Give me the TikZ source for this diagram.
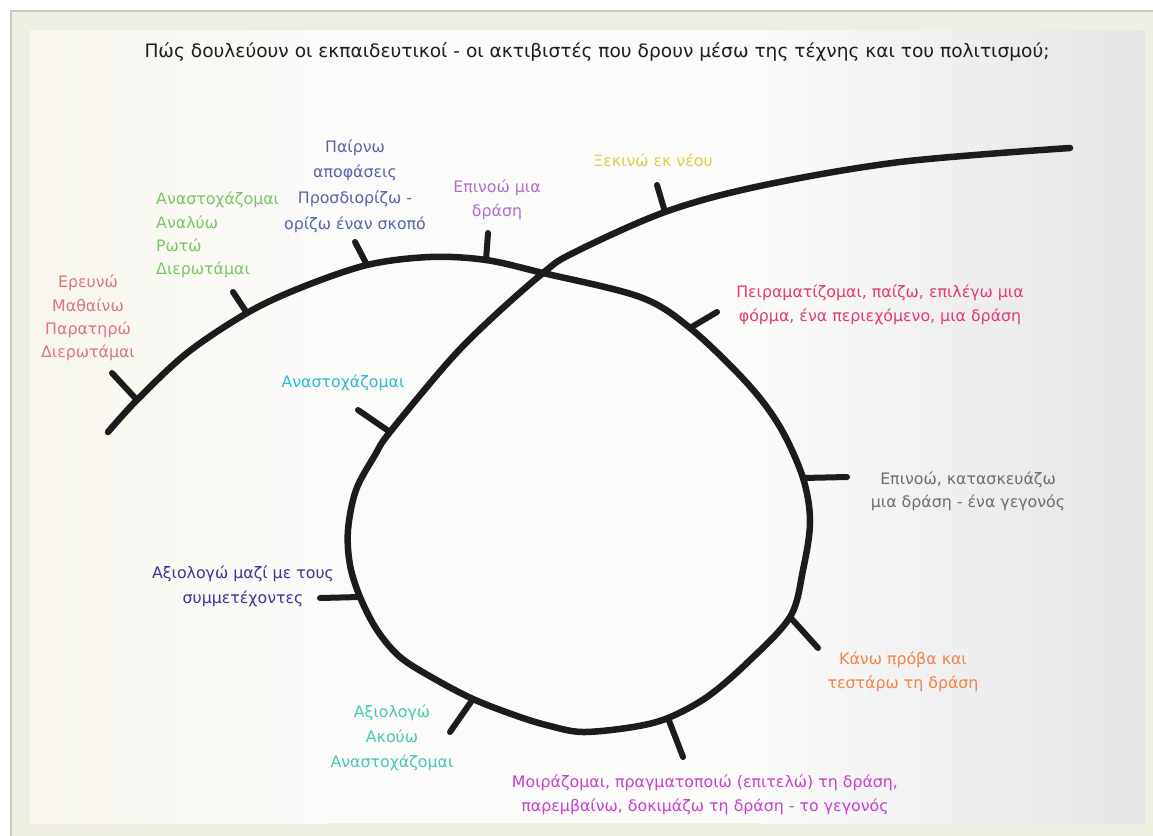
\documentclass[tikz,border=0pt]{standalone}
\usepackage{fontspec}
\usepackage{graphicx}
\setmainfont{DejaVu Sans}
\newfontfamily\titlefont{DejaVu Sans}
\newfontfamily\labelfont{DejaVu Sans}
\definecolor{ink}{RGB}{28,28,30}
\definecolor{ctitle}{RGB}{30,30,30}
\definecolor{cred}{RGB}{218,118,128}
\definecolor{cgreen}{RGB}{118,200,98}
\definecolor{cblue}{RGB}{88,100,172}
\definecolor{cpurple}{RGB}{178,110,205}
\definecolor{cyellow}{RGB}{226,202,70}
\definecolor{cpink}{RGB}{226,62,104}
\definecolor{cgray}{RGB}{110,110,110}
\definecolor{corange}{RGB}{240,132,74}
\definecolor{cmagenta}{RGB}{200,64,205}
\definecolor{cteal}{RGB}{72,200,178}
\definecolor{cindigo}{RGB}{66,52,150}
\definecolor{ccyan}{RGB}{48,186,210}
\definecolor{frame}{RGB}{239,238,226}
\definecolor{frameline}{RGB}{200,200,194}
\definecolor{photoL}{RGB}{248,246,237}
\definecolor{photoM}{RGB}{251,251,250}
\definecolor{photoR}{RGB}{228,228,231}
\tikzset{
  curve/.style={line width=6.5pt, draw=ink, line cap=round, line join=round},
  tickline/.style={line width=6pt, draw=ink, line cap=round},
  lbl/.style={font=\labelfont\fontsize{15.8}{23.3}\selectfont, align=center, inner sep=0pt},
}
\begin{document}
\begin{tikzpicture}[x=1pt,y=-1pt]
\useasboundingbox (0,0) rectangle (1153,835);
% frame
\fill[white] (0,0) rectangle (1153,835);
\begin{scope}
\clip (0,0) rectangle (1153,835);
\filldraw[fill=frame, draw=frameline, line width=1.5pt] (11,11) rectangle (1170,850);
\end{scope}
\fill[photoM] (30,30) rectangle (1145,823);
\shade[left color=photoL, right color=photoM] (30,30) rectangle (330,823);
\shade[left color=photoM, right color=photoR] (760,30) rectangle (1145,823);

% coordinates on the curve (tick bases) and tick ends
\coordinate (s0) at (108,432);
\coordinate (b1) at (137,400);  \coordinate (e1) at (112,373);
\coordinate (b2) at (247,313);  \coordinate (e2) at (233,292);
\coordinate (b3) at (367,265);  \coordinate (e3) at (355,242);
\coordinate (b4) at (486,260);  \coordinate (e4) at (488,233);
\coordinate (cx) at (543,273);
\coordinate (b5) at (665,212);  \coordinate (e5) at (657,185);
\coordinate (b6) at (690,328);  \coordinate (e6) at (717,312);
\coordinate (b7) at (803,478);  \coordinate (e7) at (847,477);
\coordinate (b8) at (790,617);  \coordinate (e8) at (818,648);
\coordinate (b9) at (668,718);  \coordinate (e9) at (683,757);
\coordinate (b10) at (473,699); \coordinate (e10) at (450,732);
\coordinate (b11) at (360,597); \coordinate (e11) at (320,598);
\coordinate (b12) at (390,432); \coordinate (e12) at (358,410);
\coordinate (s1) at (1070,148);

\draw[curve] plot[smooth, tension=0.55] coordinates {
  (s0) (b1) (187,353) (b2) (300,288) (b3) (430,257) (b4) (cx)
  (640,297) (b6) (747,383) (780,427) (b7) (810,522) (803,570) (b8)
  (747,663) (707,697) (b9) (633,727) (583,732) (550,726) (517,716) (b10)
  (433,678) (400,657) (377,630) (b11) (350,565) (348,530) (356,490)
  (375,455) (b12) (450,360) (493,317) (cx) (573,253) (b5) (760,186)
  (900,162) (s1)};

\foreach \i in {1,...,12} { \draw[tickline] (b\i) -- (e\i); }

% title
\node[inner sep=0pt, text=ctitle] (title) at (597,52)
  {\resizebox{905pt}{\height}{\titlefont\fontsize{18.5}{22}\selectfont Πώς δουλεύουν οι εκπαιδευτικοί - οι ακτιβιστές που δρουν μέσω της τέχνης και του πολιτισμού;}};

% labels
\node[lbl, text=cred] (l1) at (88,318) {Ερευνώ\\Μαθαίνω\\Παρατηρώ\\Διερωτάμαι};
\node[lbl, text=cgreen, align=left, anchor=west] (l2) at (156,235) {Αναστοχάζομαι\\Αναλύω\\Ρωτώ\\Διερωτάμαι};
\node[lbl, text=cblue, font=\labelfont\fontsize{15.8}{25.7}\selectfont] (l3) at (355,186) {Παίρνω\\αποφάσεις\\Προσδιορίζω -\\ορίζω έναν σκοπό};
\node[lbl, text=cpurple, font=\labelfont\fontsize{15.8}{24}\selectfont] (l4) at (497,200) {Επινοώ μια\\δράση};
\node[lbl, text=cyellow] (l5) at (653,160) {Ξεκινώ εκ νέου};
\node[lbl, text=cpink, font=\labelfont\fontsize{15.8}{24}\selectfont] (l6) at (880,305) {Πειραματίζομαι, παίζω, επιλέγω μια\\φόρμα, ένα περιεχόμενο, μια δράση};
\node[lbl, text=cgray] (l7) at (968,491) {Επινοώ, κατασκευάζω\\μια δράση - ένα γεγονός};
\node[lbl, text=corange, font=\labelfont\fontsize{15.8}{24}\selectfont] (l8) at (903,672) {Κάνω πρόβα και\\τεστάρω τη δράση};
\node[lbl, text=cmagenta, font=\labelfont\fontsize{15.8}{24}\selectfont] (l9) at (705,795) {Μοιράζομαι, πραγματοποιώ (επιτελώ) τη δράση,\\παρεμβαίνω, δοκιμάζω τη δράση - το γεγονός};
\node[lbl, text=cteal, font=\labelfont\fontsize{15.8}{25}\selectfont] (l10) at (392,738) {Αξιολογώ\\Ακούω\\Αναστοχάζομαι};
\node[lbl, text=cindigo, font=\labelfont\fontsize{15.8}{25}\selectfont] (l11) at (243,586) {Αξιολογώ μαζί με τους\\συμμετέχοντες};
\node[lbl, text=ccyan] (l12) at (343,383) {Αναστοχάζομαι};
\end{tikzpicture}
\end{document}
